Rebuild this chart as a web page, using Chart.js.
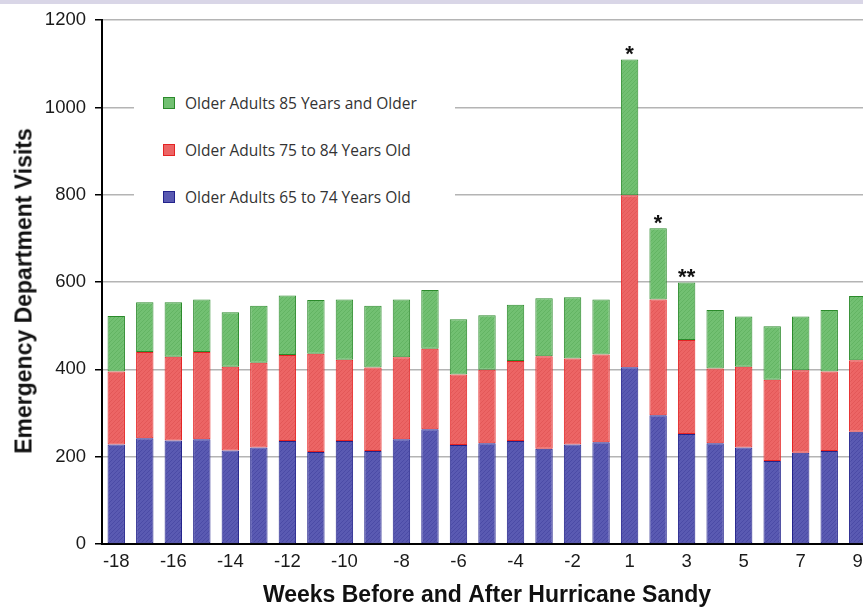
<!DOCTYPE html>
<html>
<head>
<meta charset="utf-8">
<script src="https://cdn.jsdelivr.net/npm/chart.js@4/dist/chart.umd.min.js"></script>
<style>
  html, body { margin: 0; padding: 0; background: #fff; overflow: hidden; width: 863px; height: 609px; }
  #topband { position: absolute; left: 0; top: 0; width: 863px; height: 4px; background: #d9d6e7; z-index: 3; }
  #wrap { position: absolute; left: 0; top: 0; width: 872px; height: 609px; }
  #ytitle {
    position: absolute; left: 24px; top: 291px; transform: translate(-50%, -50%) rotate(-90deg);
    font: bold 23px "Liberation Sans", Arial, sans-serif; color: #111; white-space: nowrap;
  }
  #legend { position: absolute; left: 134px; top: 86px; width: 321px; height: 128px; background: #fff; }
  .row { position: absolute; left: 0; height: 20px; display: flex; align-items: center;
         font: 15.5px "Open Sans", sans-serif; color: #333; white-space: nowrap; }
  .sw { width: 10px; height: 10px; margin-left: 29px; margin-right: 10px; border: 1px solid; }
</style>
</head>
<body>
<div id="wrap"><canvas id="chart"></canvas></div>
<div id="topband"></div>
<div id="ytitle">Emergency Department Visits</div>
<div id="legend"></div>
<script>
// weeks before (-) and after (+) Hurricane Sandy, no week 0
const weeks = ['-18', '-17', '-16', '-15', '-14', '-13', '-12', '-11', '-10', '-9', '-8', '-7', '-6', '-5', '-4', '-3', '-2', '-1',
  '1', '2', '3', '4', '5', '6', '7', '8', '9'];

const age65to74 = [228, 242, 237, 240, 214, 221, 236, 211, 236, 213, 240, 263, 227, 231, 236, 218, 228, 233,
  405, 295, 252, 231, 221, 190, 209, 213, 257];
const age75to84 = [167, 198, 192, 200, 192, 194, 197, 225, 186, 191, 188, 184, 161, 168, 183, 212, 197, 201,
  394, 265, 215, 171, 185, 186, 189, 182, 164];
const age85plus = [127, 114, 125, 120, 125, 131, 136, 123, 138, 142, 132, 135, 127, 125, 129, 133, 140, 126,
  311, 163, 132, 134, 115, 123, 123, 141, 147];

// significance marks drawn above the bars
const marks = ['', '', '', '', '', '', '', '', '', '', '', '', '', '', '', '', '', '',
  '*', '*', '**', '', '', '', '', '', ''];

const seriesNames = ['Older Adults 65 to 74 Years Old', 'Older Adults 75 to 84 Years Old', 'Older Adults 85 Years and Older'];

const colors = [
  { fill: '#5a5ab2', dark: '#4b4ba6', border: '#23238c' },
  { fill: '#ec6565', dark: '#e35858', border: '#e52424' },
  { fill: '#72c072', dark: '#63b463', border: '#2b8a2b' },
];

function texture(c) {
  const cv = document.createElement('canvas');
  cv.width = 4; cv.height = 4;
  const g = cv.getContext('2d');
  g.fillStyle = c.fill;
  g.fillRect(0, 0, 4, 4);
  g.fillStyle = c.dark;
  for (let i = 0; i < 4; i++) g.fillRect(i, 3 - i, 1, 1);
  return g.createPattern(cv, 'repeat');
}

// legend, top entry is the top of the stack
const legendEl = document.getElementById('legend');
[2, 1, 0].forEach((k, row) => {
  const div = document.createElement('div');
  div.className = 'row';
  div.style.top = (7 + row * 47) + 'px';
  div.innerHTML = `<span class="sw" style="background:${colors[k].fill};border-color:${colors[k].border}"></span>${seriesNames[k]}`;
  legendEl.appendChild(div);
});

const starPlugin = {
  id: 'stars',
  afterDatasetsDraw(chart) {
    const { ctx } = chart;
    const y = chart.scales.y;
    const meta = chart.getDatasetMeta(2);
    ctx.save();
    ctx.fillStyle = '#111';
    ctx.font = 'bold 22px "Liberation Sans", Arial, sans-serif';
    ctx.textAlign = 'center';
    ctx.textBaseline = 'alphabetic';
    marks.forEach((m, i) => {
      if (!m) return;
      const total = age65to74[i] + age75to84[i] + age85plus[i];
      ctx.fillText(m, meta.data[i].x, y.getPixelForValue(total) + 2);
    });
    ctx.restore();
  },
};

const tickFont = { family: '"Liberation Sans", Arial, sans-serif', size: 18.5 };

const datasets = [age65to74, age75to84, age85plus].map((d, k) => ({
  label: seriesNames[k],
  data: d,
  backgroundColor: texture(colors[k]),
  borderColor: colors[k].border,
  borderWidth: 1,
  borderSkipped: false,
  categoryPercentage: 1,
  barPercentage: 0.61,
}));

new Chart(document.getElementById('chart'), {
  type: 'bar',
  data: { labels: weeks, datasets },
  options: {
    responsive: true,
    maintainAspectRatio: false,
    animation: false,
    layout: { padding: { top: 20, right: 0, bottom: 0, left: 0 } },
    plugins: { legend: { display: false }, tooltip: { enabled: false } },
    scales: {
      x: {
        stacked: true,
        grid: { display: false, drawTicks: false },
        border: { display: true, color: '#000', width: 2 },
        ticks: {
          autoSkip: false, maxRotation: 0, padding: 7, color: '#1a1a1a', font: tickFont,
          callback: (v, i) => (i % 2 === 0 ? weeks[i] : ''),
        },
        title: {
          display: true, text: 'Weeks Before and After Hurricane Sandy', color: '#111',
          font: { family: '"Liberation Sans", Arial, sans-serif', size: 23, weight: 'bold' },
          padding: { top: 0, bottom: 0 },
        },
        afterFit: (s) => { s.height = 65; },
      },
      y: {
        stacked: true,
        min: 0,
        max: 1200,
        grid: { color: '#b4b4b4', lineWidth: 1.5, tickColor: '#000', tickLength: 7, tickWidth: 1.5 },
        border: { display: true, color: '#000', width: 2 },
        ticks: { stepSize: 200, padding: 9, color: '#1a1a1a', font: tickFont, callback: (v) => String(v) },
        afterFit: (s) => { s.width = 102; },
      },
    },
  },
  plugins: [starPlugin],
});
</script>
</body>
</html>
